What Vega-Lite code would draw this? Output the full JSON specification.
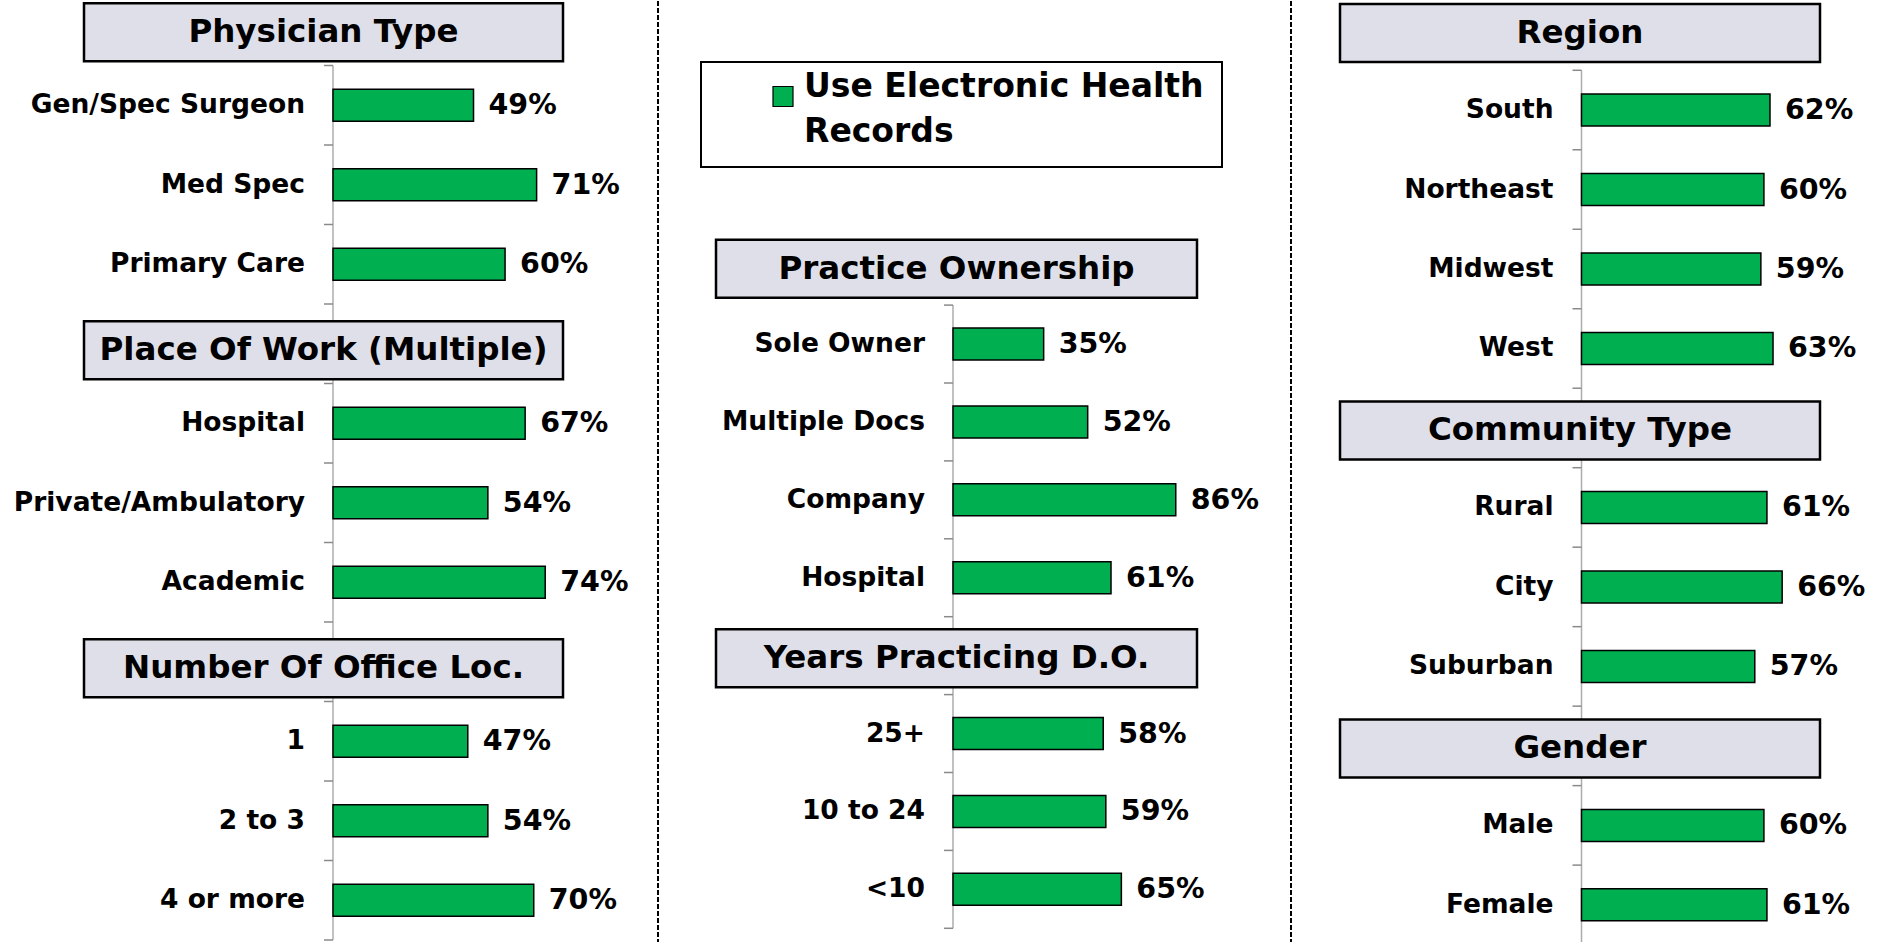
{
  "$schema": "https://vega.github.io/schema/vega-lite/v6.json",
  "padding": 0,
  "background": "white",
  "spacing": 0,
  "bounds": "flush",
  "config": {"view": {"stroke": null}, "font": "DejaVu Sans", "legend": {"strokeWidth": 2}, "style": {"guide-label": {"lineHeight": 45}}},
  "datasets": {
    "c1": [
      {"kind": "header", "label": "Physician Type"},
      {"kind": "cat", "label": "Gen/Spec Surgeon", "value": 0.49},
      {"kind": "cat", "label": "Med Spec", "value": 0.71},
      {"kind": "cat", "label": "Primary Care", "value": 0.60},
      {"kind": "header", "label": "Place Of Work (Multiple)"},
      {"kind": "cat", "label": "Hospital", "value": 0.67},
      {"kind": "cat", "label": "Private/Ambulatory", "value": 0.54},
      {"kind": "cat", "label": "Academic", "value": 0.74},
      {"kind": "header", "label": "Number Of Office Loc."},
      {"kind": "cat", "label": "1", "value": 0.47},
      {"kind": "cat", "label": "2 to 3", "value": 0.54},
      {"kind": "cat", "label": "4 or more", "value": 0.70}
    ],
    "c2": [
      {"kind": "header", "label": "Practice Ownership"},
      {"kind": "cat", "label": "Sole Owner", "value": 0.35},
      {"kind": "cat", "label": "Multiple Docs", "value": 0.52},
      {"kind": "cat", "label": "Company", "value": 0.86},
      {"kind": "cat", "label": "Hospital", "value": 0.61},
      {"kind": "header", "label": "Years Practicing D.O."},
      {"kind": "cat", "label": "25+", "value": 0.58},
      {"kind": "cat", "label": "10 to 24", "value": 0.59},
      {"kind": "cat", "label": "<10", "value": 0.65}
    ],
    "c3": [
      {"kind": "header", "label": "Region"},
      {"kind": "cat", "label": "South", "value": 0.62},
      {"kind": "cat", "label": "Northeast", "value": 0.60},
      {"kind": "cat", "label": "Midwest", "value": 0.59},
      {"kind": "cat", "label": "West", "value": 0.63},
      {"kind": "header", "label": "Community Type"},
      {"kind": "cat", "label": "Rural", "value": 0.61},
      {"kind": "cat", "label": "City", "value": 0.66},
      {"kind": "cat", "label": "Suburban", "value": 0.57},
      {"kind": "header", "label": "Gender"},
      {"kind": "cat", "label": "Male", "value": 0.60},
      {"kind": "cat", "label": "Female", "value": 0.61}
    ]
  },
  "hconcat": [
    {"width": 84, "height": 942, "data": {"values": []}, "mark": "point"},
    {
      "width": 479, "height": 942,
      "data": {"name": "c1"},
      "encoding": {
        "y": {"field": "label", "type": "nominal", "axis": null,
          "scale": {"domain": ["Physician Type", "Gen/Spec Surgeon", "Med Spec", "Primary Care", "Place Of Work (Multiple)", "Hospital", "Private/Ambulatory", "Academic", "Number Of Office Loc.", "1", "2 to 3", "4 or more"],
            "range": [-15, 939], "paddingInner": 0, "paddingOuter": 0}}
      },
      "layer": [
        {"transform": [{"filter": "datum.label != 'Physician Type'"}],
         "mark": {"type": "tick", "size": 79.5, "thickness": 1.5, "color": "#8a8a8a"},
         "encoding": {"x": {"datum": 0, "type": "quantitative", "axis": null, "scale": {"domain": [-0.8682, 0.802]}}}},
        {"mark": {"type": "rule", "color": "#8a8a8a", "strokeWidth": 1.5, "x2Offset": -9},
         "encoding": {"x": {"datum": 0, "type": "quantitative", "axis": null, "scale": {"domain": [-0.8682, 0.802]}}, "x2": {"datum": 0},
           "y": {"field": "label", "type": "nominal", "bandPosition": 1}}},
        {"transform": [{"filter": "datum.kind == 'header'"}],
         "mark": {"type": "bar", "height": 58, "yOffset": 6.5, "fill": "#DFDFE9", "stroke": "black", "strokeWidth": 2.5}},
        {"transform": [{"filter": "datum.kind == 'header'"}],
         "mark": {"type": "text", "fontWeight": "bold", "fontSize": 32.5, "yOffset": 6.5, "baseline": "middle", "color": "black"},
         "encoding": {"text": {"field": "label"}}},
        {"transform": [{"filter": "datum.kind == 'cat'"}],
         "mark": {"type": "bar", "height": 32, "fill": "#00B050", "stroke": "black", "strokeWidth": 1.5},
         "encoding": {"x": {"field": "value", "type": "quantitative", "axis": null, "scale": {"domain": [-0.8682, 0.802]}}}},
        {"transform": [{"filter": "datum.kind == 'cat'"}],
         "mark": {"type": "text", "align": "right", "dx": -28, "fontWeight": "bold", "fontSize": 26.5, "baseline": "middle", "color": "black"},
         "encoding": {"x": {"datum": 0, "type": "quantitative", "axis": null, "scale": {"domain": [-0.8682, 0.802]}}, "text": {"field": "label"}}},
        {"transform": [{"filter": "datum.kind == 'cat'"}],
         "mark": {"type": "text", "align": "left", "dx": 15, "fontWeight": "bold", "fontSize": 28.5, "baseline": "middle", "color": "black"},
         "encoding": {"x": {"field": "value", "type": "quantitative", "axis": null, "scale": {"domain": [-0.8682, 0.802]}}, "text": {"field": "value", "format": ".0%"}}}
      ]
    },
    {"width": 95, "height": 942, "data": {"values": []}, "mark": "point"},
    {"width": 58, "height": 942, "data": {"values": [{}]},
     "mark": {"type": "rule", "color": "black", "strokeWidth": 2, "strokeDash": [5, 2]},
     "encoding": {"x": {"datum": 0, "type": "quantitative", "axis": null, "scale": {"domain": [0, 1]}}}},
    {
      "width": 481, "height": 942,
      "data": {"name": "c2"},
      "encoding": {
        "y": {"field": "label", "type": "nominal", "axis": null,
          "scale": {"domain": ["Practice Ownership", "Sole Owner", "Multiple Docs", "Company", "Hospital", "Years Practicing D.O.", "25+", "10 to 24", "<10"],
            "range": [226.2, 927.3], "paddingInner": 0, "paddingOuter": 0}}
      },
      "layer": [
        {"transform": [{"filter": "datum.label != 'Practice Ownership'"}],
         "mark": {"type": "tick", "size": 77.9, "thickness": 1.5, "color": "#8a8a8a"},
         "encoding": {"x": {"datum": 0, "type": "quantitative", "axis": null, "scale": {"domain": [-0.915, 0.942]}}}},
        {"mark": {"type": "rule", "color": "#8a8a8a", "strokeWidth": 1.5, "x2Offset": -9},
         "encoding": {"x": {"datum": 0, "type": "quantitative", "axis": null, "scale": {"domain": [-0.915, 0.942]}}, "x2": {"datum": 0},
           "y": {"field": "label", "type": "nominal", "bandPosition": 1}}},
        {"transform": [{"filter": "datum.kind == 'header'"}],
         "mark": {"type": "bar", "height": 58, "yOffset": 2.5, "fill": "#DFDFE9", "stroke": "black", "strokeWidth": 2.5}},
        {"transform": [{"filter": "datum.kind == 'header'"}],
         "mark": {"type": "text", "fontWeight": "bold", "fontSize": 32.5, "yOffset": 2.5, "baseline": "middle", "color": "black"},
         "encoding": {"text": {"field": "label"}}},
        {"transform": [{"filter": "datum.kind == 'cat'"}],
         "mark": {"type": "bar", "height": 32, "stroke": "black", "strokeWidth": 1.5},
         "encoding": {
           "x": {"field": "value", "type": "quantitative", "axis": null, "scale": {"domain": [-0.915, 0.942]}},
           "color": {"datum": "Use Electronic Health Records", "type": "nominal", "scale": {"range": ["#00B050"]},
             "legend": {"orient": "none", "legendX": 701, "legendY": 61, "title": null, "padding": 18,
               "strokeColor": "black", "fillColor": "white",
               "symbolType": "square", "symbolSize": 400, "symbolOffset": 47.5, "symbolStrokeColor": "black", "symbolStrokeWidth": 1.2,
               "labelOffset": 4.5, "labelFont": "DejaVu Sans", "labelFontWeight": "bold", "labelFontSize": 33, "labelColor": "black",
               "labelLimit": 0, "labelBaseline": "alphabetic",
               "labelExpr": "[slice(datum.label, 0, 21) + '\u00a0\u00a0\u00a0', slice(datum.label, 22)]"}}
         }},
        {"transform": [{"filter": "datum.kind == 'cat'"}],
         "mark": {"type": "text", "align": "right", "dx": -28, "fontWeight": "bold", "fontSize": 26.5, "baseline": "middle", "color": "black"},
         "encoding": {"x": {"datum": 0, "type": "quantitative", "axis": null, "scale": {"domain": [-0.915, 0.942]}}, "text": {"field": "label"}}},
        {"transform": [{"filter": "datum.kind == 'cat'"}],
         "mark": {"type": "text", "align": "left", "dx": 15, "fontWeight": "bold", "fontSize": 28.5, "baseline": "middle", "color": "black"},
         "encoding": {"x": {"field": "value", "type": "quantitative", "axis": null, "scale": {"domain": [-0.915, 0.942]}}, "text": {"field": "value", "format": ".0%"}}}
      ]
    },
    {"width": 94, "height": 942, "data": {"values": []}, "mark": "point"},
    {"width": 49, "height": 942, "data": {"values": [{}]},
     "mark": {"type": "rule", "color": "black", "strokeWidth": 2, "strokeDash": [5, 2]},
     "encoding": {"x": {"datum": 0, "type": "quantitative", "axis": null, "scale": {"domain": [0, 1]}}}},
    {
      "width": 480, "height": 942,
      "data": {"name": "c3"},
      "encoding": {
        "y": {"field": "label", "type": "nominal", "axis": null,
          "scale": {"domain": ["Region", "South", "Northeast", "Midwest", "West", "Community Type", "Rural", "City", "Suburban", "Gender", "Male", "Female"],
            "range": [-10.2, 943.6], "paddingInner": 0, "paddingOuter": 0}}
      },
      "layer": [
        {"transform": [{"filter": "datum.label != 'Region'"}],
         "mark": {"type": "tick", "size": 79.5, "thickness": 1.5, "color": "#8a8a8a"},
         "encoding": {"x": {"datum": 0, "type": "quantitative", "axis": null, "scale": {"domain": [-0.7944, 0.7845]}}}},
        {"mark": {"type": "rule", "color": "#8a8a8a", "strokeWidth": 1.5, "x2Offset": -9},
         "encoding": {"x": {"datum": 0, "type": "quantitative", "axis": null, "scale": {"domain": [-0.7944, 0.7845]}}, "x2": {"datum": 0},
           "y": {"field": "label", "type": "nominal", "bandPosition": 1}}},
        {"transform": [{"filter": "datum.kind == 'header'"}],
         "mark": {"type": "bar", "height": 58, "yOffset": 2.5, "fill": "#DFDFE9", "stroke": "black", "strokeWidth": 2.5}},
        {"transform": [{"filter": "datum.kind == 'header'"}],
         "mark": {"type": "text", "fontWeight": "bold", "fontSize": 32.5, "yOffset": 2.5, "baseline": "middle", "color": "black"},
         "encoding": {"text": {"field": "label"}}},
        {"transform": [{"filter": "datum.kind == 'cat'"}],
         "mark": {"type": "bar", "height": 32, "fill": "#00B050", "stroke": "black", "strokeWidth": 1.5},
         "encoding": {"x": {"field": "value", "type": "quantitative", "axis": null, "scale": {"domain": [-0.7944, 0.7845]}}}},
        {"transform": [{"filter": "datum.kind == 'cat'"}],
         "mark": {"type": "text", "align": "right", "dx": -28, "fontWeight": "bold", "fontSize": 26.5, "baseline": "middle", "color": "black"},
         "encoding": {"x": {"datum": 0, "type": "quantitative", "axis": null, "scale": {"domain": [-0.7944, 0.7845]}}, "text": {"field": "label"}}},
        {"transform": [{"filter": "datum.kind == 'cat'"}],
         "mark": {"type": "text", "align": "left", "dx": 15, "fontWeight": "bold", "fontSize": 28.5, "baseline": "middle", "color": "black"},
         "encoding": {"x": {"field": "value", "type": "quantitative", "axis": null, "scale": {"domain": [-0.7944, 0.7845]}}, "text": {"field": "value", "format": ".0%"}}}
      ]
    }
  ]
}
